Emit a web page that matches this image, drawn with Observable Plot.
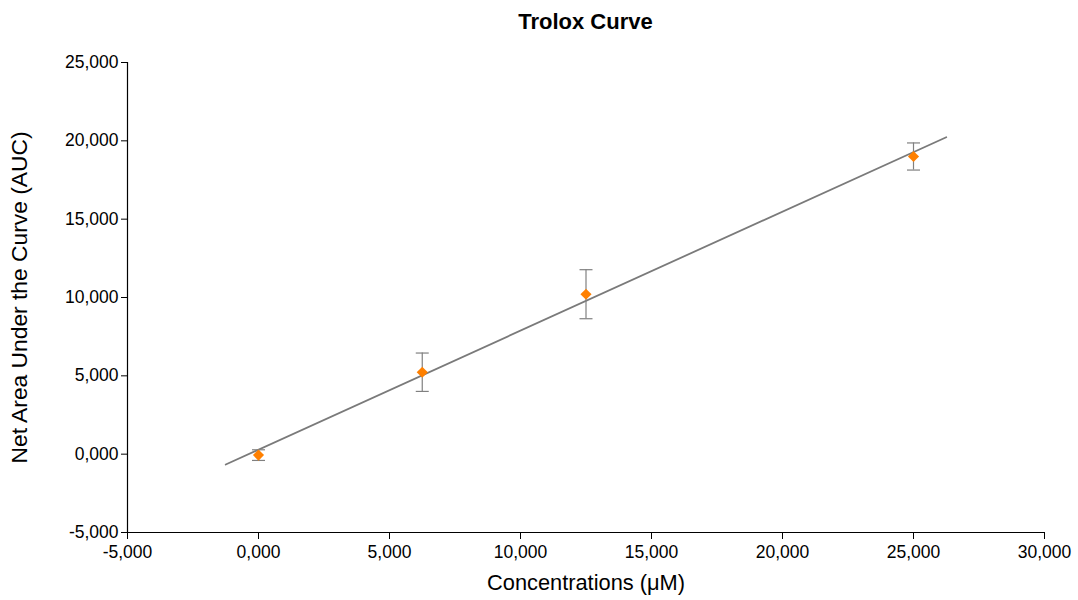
<!DOCTYPE html>
<html>
<head>
<meta charset="utf-8">
<script src="https://cdn.jsdelivr.net/npm/d3@7"></script>
<script src="https://cdn.jsdelivr.net/npm/@observablehq/plot@0.6"></script>
<style>
  body { margin: 0; background: #fff; font-family: "Liberation Sans", Arial, sans-serif; }
  #title { box-sizing: border-box; width: 1078px; height: 44px; line-height: 44px; padding-left: 93px; text-align: center; font-weight: bold; font-size: 22px; color: #000; }
</style>
</head>
<body>
<div id="title">Trolox Curve</div>
<div id="chart"></div>
<script>
// Data
const concentrations = [0, 6250, 12500, 25000];
const meanAUC = [-60, 5230, 10210, 19000];
const errAUC = [340, 1225, 1565, 865];
// Linear fit line endpoints
const fitX = [-1250, 26250];
const fitY = [-660, 20230];
// Axis ticks
const xTicks = [-5000, 0, 5000, 10000, 15000, 20000, 25000, 30000];
const yTicks = [-5000, 0, 5000, 10000, 15000, 20000, 25000];

const points = concentrations.map((c, i) => ({x: c, y: meanAUC[i], lo: meanAUC[i] - errAUC[i], hi: meanAUC[i] + errAUC[i]}));
const fit = fitX.map((x, i) => ({x, y: fitY[i]}));

const fmt = d => (d < 0 ? "-" : "") + (d === 0 ? "0,000" : d3.format(",")(Math.abs(d)));

const hline = {
  draw(context, size) {
    const w = Math.sqrt(size / Math.PI);
    context.moveTo(-w, 0);
    context.lineTo(w, 0);
  }
};

const chart = Plot.plot({
  width: 1078,
  height: 556,
  marginTop: 18,
  marginBottom: 68,
  marginLeft: 127,
  marginRight: 34,
  style: {fontFamily: "Liberation Sans, Arial, sans-serif", color: "#000", background: "#fff", overflow: "visible"},
  x: {domain: [-5000, 30000], label: null},
  y: {domain: [-5000, 25000], label: null},
  marks: [
    Plot.axisX({ticks: xTicks, tickFormat: fmt, tickSize: 7, tickPadding: 6, fontSize: 17.5, stroke: "#000", fill: "#000", label: null}),
    Plot.axisY({ticks: yTicks, tickFormat: fmt, tickSize: 6, tickPadding: 3, fontSize: 17.5, stroke: "#000", fill: "#000", label: null}),
    Plot.ruleY([-5000], {stroke: "#000", strokeWidth: 1.2}),
    Plot.ruleX([-5000], {stroke: "#000", strokeWidth: 1.2}),
    Plot.line(fit, {x: "x", y: "y", stroke: "#7a7a7a", strokeWidth: 1.8}),
    Plot.ruleX(points, {x: "x", y1: "lo", y2: "hi", stroke: "#808080", strokeWidth: 1.2}),
    Plot.dot(points, {x: "x", y: "lo", symbol: hline, r: 6.5, stroke: "#808080", strokeWidth: 1.2}),
    Plot.dot(points, {x: "x", y: "hi", symbol: hline, r: 6.5, stroke: "#808080", strokeWidth: 1.2}),
    Plot.dot(points, {x: "x", y: "y", symbol: "diamond2", r: 5, fill: "#FF8000", stroke: "none"}),
    Plot.text(["Concentrations (μM)"], {frameAnchor: "bottom", dy: 57, fontSize: 21.8, fill: "#000"}),
    Plot.text(["Net Area Under the Curve (AUC)"], {frameAnchor: "left", textAnchor: "middle", rotate: -90, dx: -108, fontSize: 22.8, fill: "#000"})
  ]
});
document.getElementById("chart").appendChild(chart);
</script>
</body>
</html>
